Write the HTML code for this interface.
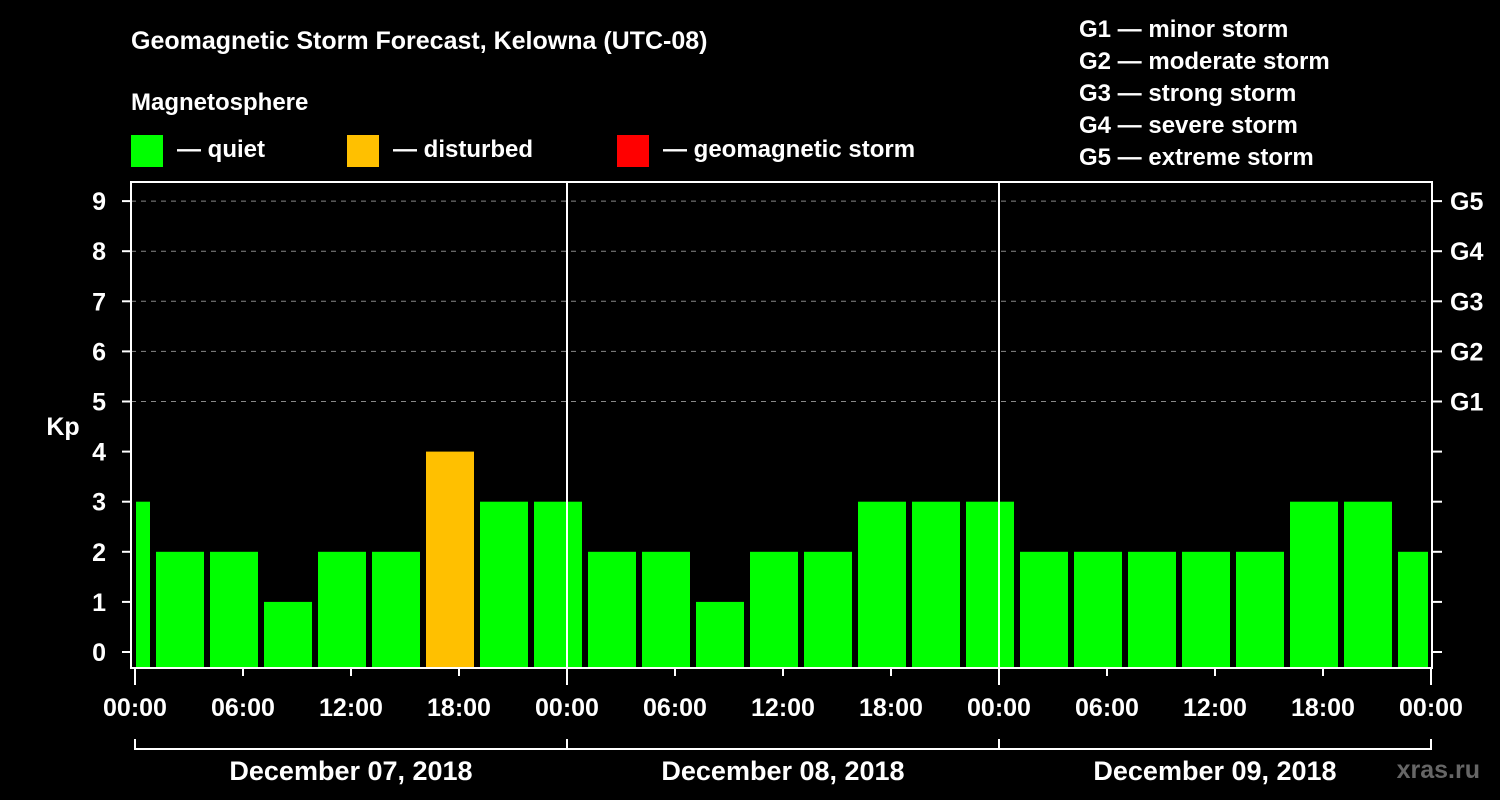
<!DOCTYPE html>
<html><head><meta charset="utf-8"><style>
body{margin:0;background:#000;}
svg{display:block;font-family:"Liberation Sans",Arial,sans-serif;font-weight:bold;}
</style></head><body>
<svg id="chart" width="1500" height="800" viewBox="0 0 1500 800">
<rect width="1500" height="800" fill="#000"/>
<text x="131" y="49" fill="#fff" font-size="25">Geomagnetic Storm Forecast, Kelowna (UTC-08)</text>
<text x="131" y="110" fill="#fff" font-size="24">Magnetosphere</text>
<g><rect x="131" y="135" width="32" height="32" fill="#00ff00"/><text x="177" y="157" fill="#fff" font-size="24">— quiet</text></g>
<g><rect x="347" y="135" width="32" height="32" fill="#ffc000"/><text x="393" y="157" fill="#fff" font-size="24">— disturbed</text></g>
<g><rect x="617" y="135" width="32" height="32" fill="#ff0000"/><text x="663" y="157" fill="#fff" font-size="24">— geomagnetic storm</text></g>
<g fill="#fff" font-size="24">
<text x="1079" y="37">G1 — minor storm</text><text x="1079" y="69">G2 — moderate storm</text><text x="1079" y="101">G3 — strong storm</text><text x="1079" y="133">G4 — severe storm</text><text x="1079" y="165">G5 — extreme storm</text>
</g>
<text x="63" y="435" fill="#fff" font-size="25" text-anchor="middle">Kp</text>
<text x="1480" y="778" fill="#666" font-size="25" text-anchor="end">xras.ru</text>
<g id="plot"></g>
</svg>
<script>
const kpValues=[3,2,2,1,2,2,4,3,3,2,2,1,2,2,3,3,3,2,2,2,2,2,3,3,2];
const binStartHours=[-2,1,4,7,10,13,16,19,22,25,28,31,34,37,40,43,46,49,52,55,58,61,64,67,70];
const yTicks=[0,1,2,3,4,5,6,7,8,9];
const gLabels=["G1","G2","G3","G4","G5"];
const gLevels=[5,6,7,8,9];
const xTickLabels=["00:00","06:00","12:00","18:00","00:00","06:00","12:00","18:00","00:00","06:00","12:00","18:00","00:00"];
const dayLabels=["December 07, 2018","December 08, 2018","December 09, 2018"];
const NS="http://www.w3.org/2000/svg";
const L=131,R=1432,T=182,B=668,X0=135,pxH=18;
const x=h=>X0+h*pxH;
const y=v=>652-v*50.1;
const g=document.getElementById('plot');
function mk(t,a,txt){const e=document.createElementNS(NS,t);for(const k in a)e.setAttribute(k,a[k]);if(txt!==undefined)e.textContent=txt;g.appendChild(e);return e;}
yTicks.forEach(v=>{
 if(v>=5){const e=mk('line',{x1:L,x2:R,y1:y(v),y2:y(v),stroke:'#888','stroke-width':1,'stroke-dasharray':'5,5'});
 
 }
 const t=mk('line',{x1:122,x2:L,y1:y(v),y2:y(v),stroke:'#fff','stroke-width':2});
 
 
 const t2=mk('line',{x1:R,x2:1442,y1:y(v),y2:y(v),stroke:'#fff','stroke-width':2});
 
 
 const lb=mk('text',{x:106,y:y(v)+9,fill:'#fff','font-size':25,'text-anchor':'end'},String(v));
 
 
});
gLabels.forEach((s,i)=>{
 const lb=mk('text',{x:1450,y:y(gLevels[i])+9,fill:'#fff','font-size':25},s);
 
 
});
kpValues.forEach((v,i)=>{
 let a=Math.max(x(binStartHours[i])+3,X0+1),b=Math.min(x(binStartHours[i]+3)-3,1428);
 const c=v>=5?'#ff0000':(v>=4?'#ffc000':'#00ff00');
 const r=mk('rect',{x:a,y:y(v),width:b-a,height:B-1-y(v),fill:c});
 
 
});
[1,2].forEach(d=>{const e=mk('line',{x1:x(24*d),x2:x(24*d),y1:T,y2:B,stroke:'#fff','stroke-width':2});
 
 });
const fr=mk('rect',{x:L,y:T,width:R-L,height:B-T,fill:'none',stroke:'#fff','stroke-width':2});


xTickLabels.forEach((s,i)=>{
 const px=x(i*6);
 const t=mk('line',{x1:px,x2:px,y1:B,y2:B+(i%4===0?17:8),stroke:'#fff','stroke-width':2});
 
 
 const lb=mk('text',{x:px,y:716,fill:'#fff','font-size':25,'text-anchor':'middle'},s);
 
 
});
const br=mk('line',{x1:x(0),x2:x(72),y1:749,y2:749,stroke:'#fff','stroke-width':2});


[0,1,2,3].forEach(d=>{const e=mk('line',{x1:x(24*d),x2:x(24*d),y1:739,y2:750,stroke:'#fff','stroke-width':2});
 
 });
dayLabels.forEach((s,i)=>{
 const lb=mk('text',{x:x(24*i+12),y:780,fill:'#fff','font-size':27,'text-anchor':'middle'},s);
 
 
});
</script>
</body></html>
